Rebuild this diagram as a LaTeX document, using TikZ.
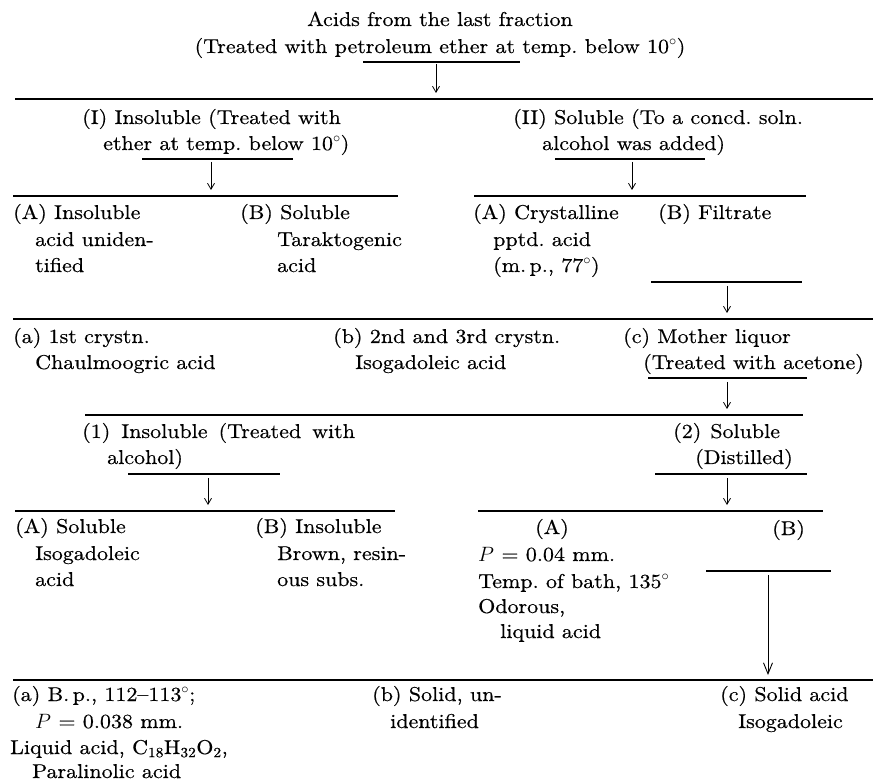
\documentclass[tikz,border=0pt]{standalone}
\usepackage{fontspec}
\setmainfont{lmroman10-regular.otf}[FakeStretch=1.1, FakeBold=0.5, ItalicFont=lmroman10-italic.otf, BoldFont=lmroman10-bold.otf]
\usetikzlibrary{arrows.meta}
\tikzset{
  txt/.style={anchor=base west, inner sep=0pt, font=\fontsize{20}{26}\selectfont\frenchspacing},
  ctxt/.style={txt, anchor=base},
  rule/.style={line width=1.3pt},
  arr/.style={line width=0.8pt, -{Straight Barb[length=6pt,width=7pt]}},
  bigarr/.style={line width=0.9pt, -{Straight Barb[length=11pt,width=9pt]}}
}
\newcommand{\wsp}{\hspace{11pt}}
\begin{document}
\begin{tikzpicture}[x=1pt,y=-1pt]
\useasboundingbox (0,0) rectangle (873,783);
% ---- top
\node[ctxt] (t1) at (440,26) {Acids from the last fraction};
\node[ctxt] (t2) at (440,53) {(Treated with petroleum ether at temp. below 10$^\circ$)};
\coordinate (s0a) at (363,62); \coordinate (s0b) at (520,62);
\coordinate (a0s) at (436,64); \coordinate (a0e) at (436,93);
\coordinate (l1a) at (15,99); \coordinate (l1b) at (873,99);
\draw[rule] (s0a) -- (s0b);
\draw[arr] (a0s) -- (a0e);
\draw[rule] (l1a) -- (l1b);
% ---- level I / II
\node[txt] (i1) at (82,124) {(I) Insoluble (Treated with};
\node[txt] (i2) at (103,150) {ether at temp. below 10$^\circ$)};
\node[txt] (ii1) at (513,124) {(II) Soluble (To a concd. soln.};
\node[txt] (ii2) at (542,150) {alcohol was added)};
\coordinate (sIa) at (142,159); \coordinate (sIb) at (293,159);
\coordinate (aIs) at (211,162); \coordinate (aIe) at (211,190);
\coordinate (lIa) at (13,196); \coordinate (lIb) at (398,196);
\coordinate (sIIa) at (555,159); \coordinate (sIIb) at (705,159);
\coordinate (aIIs) at (632,162); \coordinate (aIIe) at (632,190);
\coordinate (lIIa) at (474,196); \coordinate (lIIb) at (806,196);
\draw[rule] (sIa) -- (sIb); \draw[arr] (aIs) -- (aIe); \draw[rule] (lIa) -- (lIb);
\draw[rule] (sIIa) -- (sIIb); \draw[arr] (aIIs) -- (aIIe); \draw[rule] (lIIa) -- (lIIb);
% ---- sub of I and II
\node[txt] (ia1) at (13,219) {(A) Insoluble};
\node[txt] (ia2) at (35,246) {acid uniden-};
\node[txt] (ia3) at (35,272) {tified};
\node[txt] (ib1) at (240,219) {(B) Soluble};
\node[txt] (ib2) at (277,246) {Taraktogenic};
\node[txt] (ib3) at (277,272) {acid};
\node[txt] (iia1) at (473,219) {(A) Crystalline};
\node[txt] (iia2) at (493,246) {pptd.\ acid};
\node[txt] (iia3) at (493,272) {(m.\,p., 77$^\circ$)};
\node[txt] (iib1) at (658,219) {(B) Filtrate};
\coordinate (sFa) at (651,282); \coordinate (sFb) at (802,282);
\coordinate (aFs) at (727,286); \coordinate (aFe) at (727,313);
\coordinate (lFa) at (13,319); \coordinate (lFb) at (873,319);
\draw[rule] (sFa) -- (sFb); \draw[arr] (aFs) -- (aFe); \draw[rule] (lFa) -- (lFb);
% ---- a b c
\node[txt] (ca1) at (13,343) {(a) 1st crystn.};
\node[txt] (ca2) at (35,369) {Chaulmoogric acid};
\node[txt] (cb1) at (333,343) {(b) 2nd and 3rd crystn.};
\node[txt] (cb2) at (355,369) {Isogadoleic acid};
\node[txt] (cc1) at (623,343) {(c) Mother liquor};
\node[txt] (cc2) at (643,369) {(Treated with acetone)};
\coordinate (sMa) at (648,378); \coordinate (sMb) at (807,378);
\coordinate (aMs) at (727,382); \coordinate (aMe) at (727,409);
\coordinate (lMa) at (85,415); \coordinate (lMb) at (803,415);
\draw[rule] (sMa) -- (sMb); \draw[arr] (aMs) -- (aMe); \draw[rule] (lMa) -- (lMb);
% ---- 1 and 2
\node[txt] (n11) at (82,438) {(1)\wsp Insoluble\wsp (Treated\wsp with};
\node[txt] (n12) at (107,464) {alcohol)};
\node[txt] (n21) at (673,438) {(2)\hspace{9pt}Soluble};
\node[txt] (n22) at (695,464) {(Distilled)};
\coordinate (s1a) at (128,474); \coordinate (s1b) at (280,474);
\coordinate (a1s) at (208,478); \coordinate (a1e) at (208,505);
\coordinate (l1la) at (15,511); \coordinate (l1lb) at (395,511);
\coordinate (s2a) at (655,474); \coordinate (s2b) at (807,474);
\coordinate (a2s) at (727,478); \coordinate (a2e) at (727,505);
\coordinate (l2a) at (478,511); \coordinate (l2b) at (823,511);
\draw[rule] (s1a) -- (s1b); \draw[arr] (a1s) -- (a1e); \draw[rule] (l1la) -- (l1lb);
\draw[rule] (s2a) -- (s2b); \draw[arr] (a2s) -- (a2e); \draw[rule] (l2a) -- (l2b);
% ---- sub of 1 and 2
\node[txt] (p1) at (15,533) {(A) Soluble};
\node[txt] (p2) at (35,560) {Isogadoleic};
\node[txt] (p3) at (35,586) {acid};
\node[txt] (q1) at (255,533) {(B) Insoluble};
\node[txt] (q2) at (277,560) {Brown, resin-};
\node[txt] (q3) at (277,586) {ous subs.};
\node[ctxt] (r1) at (552,534) {(A)};
\node[txt] (r2) at (478,561) {$P$ = 0.04 mm.};
\node[txt] (r3) at (478,588) {Temp. of bath, 135$^\circ$};
\node[txt] (r4) at (478,613) {Odorous,};
\node[txt] (r5) at (500,638) {liquid acid};
\node[txt] (u1) at (772,535) {(B)};
\coordinate (sBa) at (706,571); \coordinate (sBb) at (831,571);
\coordinate (aBs) at (768,575); \coordinate (aBe) at (768,675);
\coordinate (lBa) at (13,680); \coordinate (lBb) at (873,680);
\draw[rule] (sBa) -- (sBb); \draw[bigarr] (aBs) -- (aBe); \draw[rule] (lBa) -- (lBb);
% ---- bottom
\node[txt] (x1) at (12,701) {(a) B.\,p., 112--113$^\circ$;};
\node[txt] (x2) at (35,728) {$P$ = 0.038 mm.};
\node[txt] (x3) at (10,754) {Liquid acid, C\textsubscript{18}H\textsubscript{32}O\textsubscript{2},};
\node[txt] (x4) at (32,778) {Paralinolic acid};
\node[txt] (y1) at (372,701) {(b) Solid, un-};
\node[txt] (y2) at (390,728) {identified};
\node[txt] (z1) at (720,701) {(c) Solid acid};
\node[txt] (z2) at (738,728) {Isogadoleic};
\end{tikzpicture}
\end{document}
